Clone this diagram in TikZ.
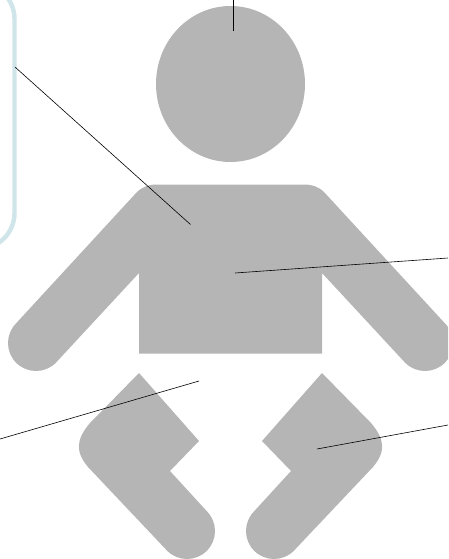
\documentclass[tikz,border=0pt]{standalone}
\definecolor{babygray}{HTML}{B5B5B5}
\definecolor{panelblue}{HTML}{CFE5E9}
\tikzset{
  babypart/.style={fill=babygray},
  leader/.style={draw=black, line width=0.6pt}
}
\begin{document}
\begin{tikzpicture}[x=1pt, y=-1pt]
      \clip (0,0) rectangle (448,559);
      % Panel at the left edge
      \draw[panelblue, line width=4.4pt, rounded corners=36pt] (-80,-17) rectangle (14.5,249);

      % Head
      \fill[babypart] (230.5,84) ellipse (74.5 and 78);

      % Torso and arms
      \fill[babypart] (139,353.5) -- (139,273) -- (55.8,362.8) arc (45:225:28)
                        -- (137,192) .. controls (143,186.5) and (149,184.5) .. (157,184.5)
                        -- (304,184.5) .. controls (312,184.5) and (318,186.5) .. (324,192)
                        -- (444.8,323.2) arc (-45:135:28)
                        -- (322,273) -- (322,353.5) -- cycle;

      % Legs, the right one mirrored
      \foreach \side in {0,1}{
        \begin{scope}[xshift=\side*461pt, xscale=1-2*\side]
          \fill[babypart] (139,373) -- (199,441) -- (170,471) -- (206.8,511.2)
                            arc (-45:135:28) -- (88,467)
                            .. controls (75.5,452) and (75.5,440) .. (90,423) -- cycle;
        \end{scope}
      }

      % Leader lines
      \coordinate (topin) at (233,31);
      \coordinate (topout) at (233,0);
      \coordinate (chestin) at (190.5,224.5);
      \coordinate (chestout) at (15,67);
      \coordinate (bellyin) at (235,273);
      \coordinate (bellyout) at (448,258);
      \coordinate (hipin) at (199,381);
      \coordinate (hipout) at (0,439);
      \coordinate (legin) at (317,449);
      \coordinate (legout) at (448,425);
      \foreach \a/\b in {topin/topout,chestin/chestout,bellyin/bellyout,hipin/hipout,legin/legout}{
        \draw[leader] (\a) -- (\b);
      }
    \end{tikzpicture}
\end{document}
